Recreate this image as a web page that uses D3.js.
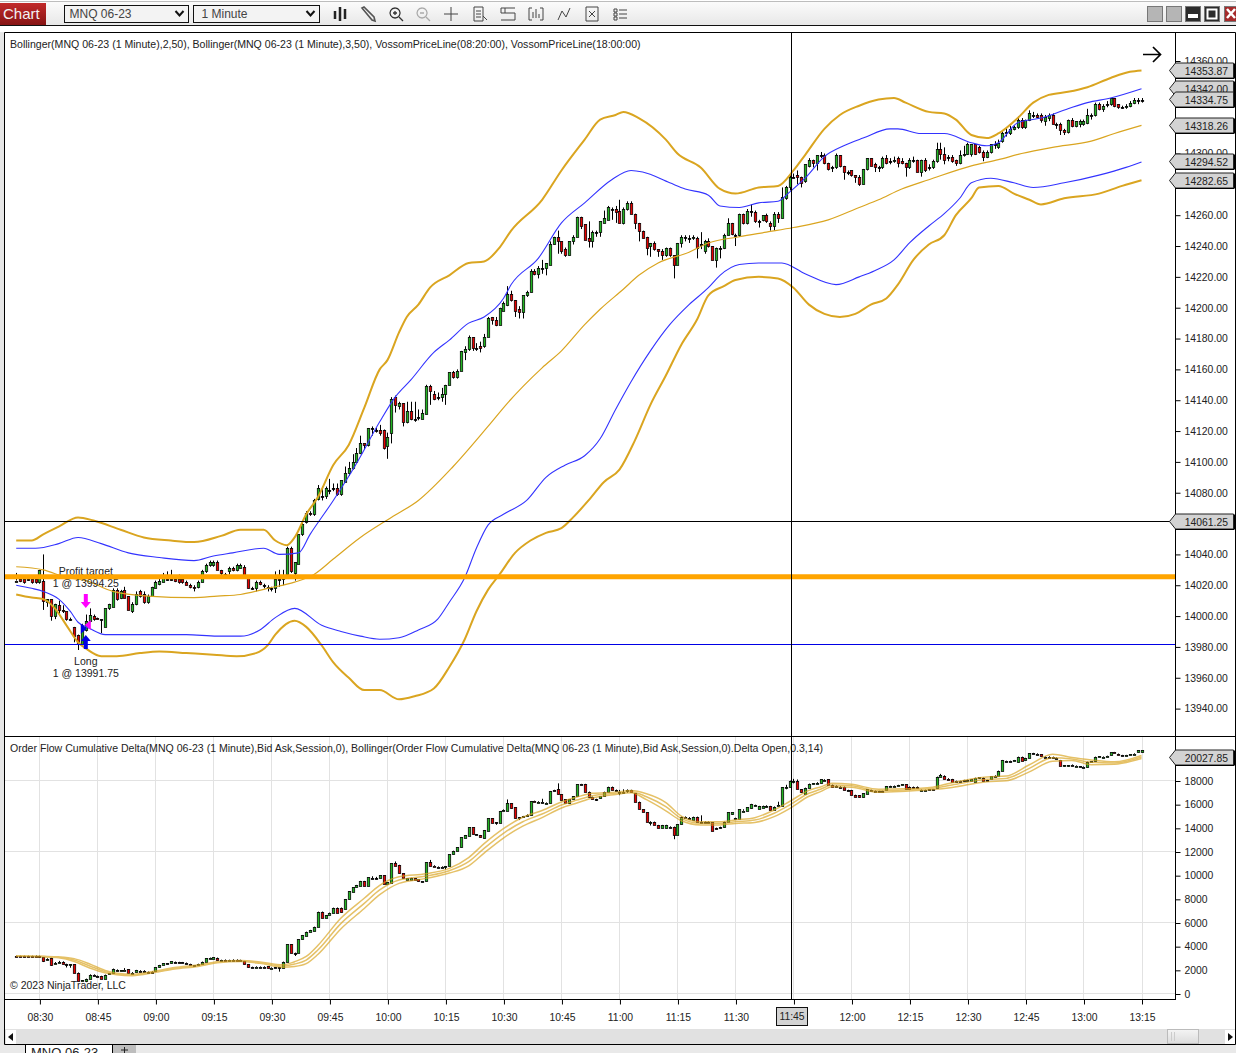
<!DOCTYPE html>
<html>
<head>
<meta charset="utf-8">
<title>MNQ 06-23</title>
<script src="https://cdnjs.cloudflare.com/ajax/libs/d3/7.8.5/d3.min.js"></script>
<style>
    html, body { margin: 0; padding: 0; background: #fff; overflow: hidden; }
    svg { display: block; }
    text { font-family: "Liberation Sans", Arial, sans-serif; font-size: 10.5px; fill: #222; }
    .axis text { font-size: 10.4px; fill: #222; }
    .axis path { display: none; }
    .axis line { stroke: #000; }
</style>
</head>
<body>
<svg id="chart" width="1236" height="1053"></svg>
<script>
// minutes from 08:30, one bar a minute
const FIRST_BAR = -6

const priceOpen = [
    14023,14024,14024,14024,14024,14024,14022,14023,14009,14011,
    14000,14007,14004,14003,13998,13993,13988,13982,13991,13997,
    14000,13999,13998,13993,14005,14006,14017,14012,14017,14013,
    14003,14008,14016,14014,14009,14013,14018,14021,14022,14024,
    14024,14024,14024,14024,14022,14020,14019,14019,14022,14029,
    14033,14033,14035,14030,14027,14029,14031,14030,14031,14032,
    14026,14018,14018,14022,14020,14019,14018,14018,14024,14024,
    14027,14044,14028,14034,14053,14061,14067,14066,14076,14078,
    14078,14082,14083,14083,14079,14087,14093,14096,14100,14106,
    14112,14111,14122,14121,14121,14121,14110,14119,14142,14136,
    14138,14126,14133,14128,14129,14128,14131,14149,14144,14142,
    14142,14144,14150,14158,14155,14159,14171,14173,14181,14174,
    14175,14175,14181,14194,14192,14189,14198,14202,14209,14205,
    14199,14197,14208,14210,14224,14222,14226,14226,14228,14241,
    14246,14243,14238,14234,14243,14246,14259,14254,14245,14243,
    14249,14249,14255,14257,14264,14264,14263,14255,14264,14268,
    14261,14255,14250,14246,14240,14242,14238,14237,14234,14239,
    14234,14228,14242,14246,14245,14245,14245,14241,14237,14243,
    14240,14231,14239,14239,14247,14255,14247,14247,14261,14255,
    14263,14262,14256,14257,14260,14255,14253,14261,14258,14271,
    14278,14285,14286,14285,14282,14292,14296,14294,14299,14299,
    14294,14291,14291,14299,14292,14288,14289,14286,14285,14280,
    14290,14297,14293,14291,14291,14297,14295,14295,14297,14295,
    14294,14291,14296,14296,14288,14296,14291,14291,14295,14303,
    14300,14298,14298,14296,14294,14299,14300,14300,14306,14304,
    14301,14298,14301,14306,14304,14308,14314,14313,14316,14317,
    14322,14317,14322,14325,14325,14325,14321,14323,14325,14319,
    14319,14315,14314,14322,14318,14319,14319,14320,14325,14325,
    14332,14329,14332,14332,14336,14332,14330,14330,14331,14333,
    14335,14335
]
const priceHigh = [
    14028,14026,14025,14026,14025,14025,14030,14040,14011,14011,
    14008,14010,14007,14003,13999,13993,13988,13995,14001,14005,
    14001,13999,13998,14005,14008,14018,14018,14017,14019,14013,
    14009,14016,14017,14016,14014,14019,14023,14025,14028,14029,
    14030,14025,14027,14024,14023,14021,14020,14023,14030,14034,
    14036,14036,14036,14030,14028,14032,14032,14034,14034,14033,
    14026,14019,14023,14023,14021,14020,14019,14029,14030,14030,
    14045,14045,14035,14053,14062,14068,14068,14076,14085,14084,
    14084,14089,14086,14086,14088,14097,14100,14105,14109,14117,
    14112,14122,14123,14122,14124,14121,14119,14142,14143,14139,
    14138,14139,14139,14139,14134,14134,14150,14150,14146,14145,
    14148,14150,14158,14159,14160,14172,14175,14182,14181,14177,
    14178,14183,14194,14194,14194,14200,14204,14214,14211,14205,
    14201,14208,14211,14225,14225,14227,14231,14229,14243,14246,
    14250,14243,14239,14243,14247,14259,14259,14254,14256,14250,
    14250,14256,14263,14266,14265,14266,14270,14265,14269,14269,
    14261,14255,14250,14246,14242,14243,14238,14238,14239,14239,
    14234,14242,14247,14247,14247,14247,14246,14249,14244,14245,
    14240,14239,14240,14248,14258,14255,14248,14261,14261,14264,
    14267,14263,14257,14260,14261,14256,14262,14262,14278,14279,
    14286,14287,14289,14285,14293,14297,14296,14299,14301,14300,
    14294,14292,14300,14299,14292,14289,14289,14286,14286,14290,
    14297,14297,14294,14292,14298,14299,14297,14298,14298,14297,
    14294,14297,14298,14296,14296,14297,14293,14296,14307,14307,
    14304,14299,14299,14296,14302,14305,14307,14306,14306,14305,
    14302,14302,14306,14308,14309,14315,14317,14318,14318,14324,
    14323,14322,14328,14327,14326,14326,14325,14326,14326,14320,
    14320,14316,14322,14323,14321,14322,14322,14329,14326,14333,
    14333,14332,14334,14336,14336,14332,14331,14332,14334,14336,
    14336,14336
]
const priceLow = [
    14023,14022,14021,14023,14021,14021,14021,14004,14006,13997,
    13998,14000,14002,13997,13997,13983,13978,13980,13990,13996,
    13997,13998,13989,13993,14004,14006,14010,14011,14012,14004,
    14002,14007,14012,14008,14008,14013,14018,14020,14022,14023,
    14023,14022,14021,14021,14020,14018,14016,14018,14022,14028,
    14032,14032,14030,14026,14026,14027,14029,14029,14031,14026,
    14018,14017,14016,14020,14018,14016,14016,14015,14019,14020,
    14027,14028,14023,14034,14052,14060,14065,14065,14075,14075,
    14076,14079,14081,14078,14078,14087,14091,14095,14100,14105,
    14108,14110,14117,14119,14117,14108,14102,14112,14132,14134,
    14123,14125,14127,14126,14127,14128,14131,14137,14140,14140,
    14139,14137,14150,14154,14154,14159,14166,14172,14172,14172,
    14171,14174,14181,14189,14188,14189,14198,14201,14204,14194,
    14193,14193,14207,14210,14221,14219,14222,14221,14228,14241,
    14235,14235,14233,14234,14241,14246,14251,14244,14239,14239,
    14246,14246,14255,14257,14257,14255,14255,14254,14263,14261,
    14251,14243,14245,14234,14233,14237,14233,14231,14233,14233,
    14219,14228,14239,14243,14242,14244,14232,14238,14235,14239,
    14231,14226,14232,14238,14247,14247,14240,14246,14254,14254,
    14259,14255,14252,14256,14255,14250,14250,14255,14258,14270,
    14276,14284,14280,14278,14281,14291,14291,14289,14297,14293,
    14289,14288,14290,14291,14283,14286,14285,14281,14279,14280,
    14289,14292,14288,14288,14290,14293,14293,14294,14291,14293,
    14285,14290,14294,14288,14285,14288,14289,14290,14294,14296,
    14293,14295,14294,14292,14293,14298,14299,14298,14299,14300,
    14295,14297,14300,14303,14303,14307,14311,14312,14315,14316,
    14316,14316,14321,14323,14323,14320,14318,14321,14319,14316,
    14312,14312,14313,14317,14317,14317,14318,14319,14322,14324,
    14328,14327,14330,14331,14330,14329,14329,14329,14330,14332,
    14332,14333
]
const priceClose = [
    14023,14023,14022,14024,14022,14022,14030,14010,14011,14000,
    14008,14004,14003,13998,13998,13987,13982,13994,13997,14001,
    13998,13998,13998,14005,14008,14017,14011,14016,14012,14004,
    14008,14014,14013,14009,14013,14019,14022,14023,14026,14024,
    14024,14023,14022,14022,14020,14019,14018,14022,14029,14033,
    14035,14035,14030,14028,14027,14031,14030,14033,14033,14026,
    14018,14018,14022,14021,14020,14019,14018,14024,14024,14025,
    14044,14029,14035,14053,14060,14067,14066,14075,14083,14078,
    14083,14082,14083,14079,14088,14093,14096,14100,14106,14112,
    14111,14122,14122,14121,14119,14109,14116,14141,14137,14138,
    14126,14133,14128,14128,14129,14132,14149,14146,14141,14142,
    14144,14150,14158,14155,14159,14172,14173,14181,14174,14174,
    14174,14181,14193,14192,14189,14200,14203,14209,14205,14198,
    14197,14208,14210,14224,14222,14226,14226,14229,14241,14246,
    14243,14237,14234,14243,14246,14259,14253,14244,14243,14249,
    14249,14256,14258,14265,14264,14262,14255,14264,14268,14261,
    14255,14250,14245,14239,14242,14238,14237,14234,14239,14234,
    14228,14242,14246,14246,14245,14246,14239,14241,14243,14240,
    14231,14239,14239,14247,14255,14248,14247,14261,14255,14263,
    14263,14256,14256,14260,14256,14253,14261,14258,14272,14278,
    14285,14285,14285,14281,14293,14296,14294,14299,14299,14294,
    14290,14291,14299,14292,14288,14288,14286,14285,14280,14290,
    14297,14292,14291,14291,14297,14294,14295,14296,14294,14294,
    14291,14296,14296,14288,14296,14289,14291,14295,14303,14300,
    14296,14298,14295,14294,14299,14300,14306,14306,14300,14301,
    14298,14301,14306,14306,14307,14313,14314,14316,14317,14322,
    14317,14322,14326,14325,14324,14322,14324,14325,14319,14319,
    14315,14314,14322,14318,14321,14321,14321,14325,14325,14332,
    14329,14331,14332,14336,14331,14330,14330,14331,14333,14335,
    14335,14335
]

// Bollinger lines on the price panel, [minute, price]
const bb3Upper = [[-6,14049],[-2,14049],[1,14053],[5,14058],[10,14064],[14,14062],[21,14056],[27,14051],[34,14049],[40,14048],[47,14052],[52,14056],[58,14056],[61,14049],[64,14046],[66,14051],[69,14066],[72,14077],[76,14098],[80,14111],[84,14135],[88,14160],[90,14166],[93,14184],[95,14194],[98,14202],[101,14213],[106,14221],[111,14229],[115,14230],[119,14239],[122,14250],[130,14270],[135,14289],[141,14309],[145,14322],[149,14325],[151,14327],[155,14323],[162,14309],[165,14300],[171,14291],[176,14277],[180,14274],[186,14278],[191,14279],[195,14289],[198,14299],[203,14316],[207,14325],[212,14331],[217,14335],[221,14336],[224,14333],[230,14327],[234,14326],[237,14322],[241,14312],[245,14310],[248,14313],[253,14323],[257,14333],[261,14338],[266,14340],[271,14343],[277,14349],[282,14353],[285,14353.87]]
const bb3Lower = [[-6,14014],[-2,14012],[1,14011],[4,14005],[7,13994],[10,13983],[12,13979],[16,13974],[20,13974],[26,13976],[31,13977],[38,13976],[45,13975],[51,13974],[56,13976],[59,13981],[61,13988],[66,13997],[69,13993],[73,13981],[76,13970],[80,13960],[84,13952],[88,13952],[93,13946],[97,13948],[102,13953],[106,13967],[110,13985],[113,14003],[116,14017],[119,14027],[123,14041],[127,14049],[131,14054],[135,14057],[138,14064],[142,14075],[146,14087],[150,14095],[154,14114],[158,14137],[162,14156],[166,14176],[170,14192],[173,14208],[177,14214],[180,14218],[186,14220],[191,14219],[195,14213],[199,14202],[203,14196],[207,14194],[211,14196],[215,14202],[219,14206],[222,14215],[226,14231],[230,14241],[234,14247],[237,14260],[241,14271],[243,14278],[248,14279],[252,14274],[256,14270],[259,14267],[265,14271],[274,14274],[280,14279],[285,14282.65]]
const bb2Upper = [[-6,14044],[-1,14044],[5,14047],[10,14051],[16,14047],[23,14041],[31,14038],[40,14036],[45,14039],[50,14041],[58,14044],[62,14040],[67,14041],[70,14053],[76,14075],[82,14099],[88,14126],[92,14142],[96,14153],[102,14171],[106,14179],[111,14190],[115,14194],[120,14206],[122,14215],[129,14232],[135,14255],[141,14268],[148,14283],[153,14289],[156,14288],[163,14281],[167,14277],[173,14273],[176,14266],[181,14265],[186,14268],[191,14269],[194,14275],[198,14284],[203,14298],[208,14305],[213,14310],[220,14316],[222,14316],[228,14313],[234,14313],[241,14307],[245,14305],[248,14307],[253,14320],[259,14323],[266,14329],[271,14333],[277,14336],[285,14342]]
const bb2Lower = [[-6,14020],[-2,14018],[1,14016],[5,14011],[8,14003],[10,13996],[13,13992],[17,13988],[29,13988],[38,13988],[46,13987],[52,13987],[57,13991],[61,13999],[66,14005],[73,13994],[78,13990],[83,13987],[88,13985],[93,13986],[98,13991],[103,13998],[106,14009],[110,14025],[113,14044],[116,14059],[120,14066],[126,14075],[131,14090],[136,14098],[141,14104],[145,14115],[149,14134],[153,14152],[158,14172],[163,14189],[168,14202],[173,14213],[176,14221],[181,14228],[186,14229],[192,14229],[198,14222],[206,14215],[212,14220],[216,14224],[221,14231],[225,14242],[230,14253],[234,14261],[238,14271],[241,14281],[246,14284],[252,14281],[257,14278],[265,14281],[274,14286],[281,14291],[285,14294.52]]
const bbMiddle = [[-6,14032],[1,14030],[7,14025],[12,14023],[19,14016],[28,14013],[40,14012],[46,14013],[52,14014],[59,14018],[66,14022],[71,14027],[76,14037],[83,14051],[91,14064],[98,14075],[107,14097],[116,14123],[121,14138],[130,14161],[135,14172],[141,14189],[145,14199],[151,14212],[155,14221],[160,14229],[168,14236],[173,14242],[181,14246],[188,14249],[195,14252],[204,14257],[212,14265],[217,14270],[223,14277],[230,14283],[241,14292],[248,14296],[254,14300],[262,14304],[272,14308],[278,14313],[285,14318.26]]

const deltaOpen = [
    3220,3210,3210,3210,3210,3210,3200,3100,2990,3040,
    2620,2730,2730,2530,2500,2500,1800,1130,1070,1300,
    1610,1520,1520,1300,1700,1750,2000,1950,2050,2080,
    1800,1860,1970,1970,1860,1890,1970,2250,2480,2590,
    2590,2700,2680,2680,2620,2530,2420,2500,2530,2730,
    3010,3000,3070,2870,2880,2870,2900,2900,2870,2790,
    2510,2280,2300,2310,2310,2340,2220,2250,2250,2200,
    2730,4200,3490,3490,4620,4930,5270,5350,5690,6960,
    6450,6680,6870,7300,7290,7180,8000,8650,9010,9150,
    9550,9150,9830,9830,9830,10030,9270,9350,11040,10900,
    10200,9650,9660,9780,9700,9520,9520,11130,10850,10750,
    10760,10790,10840,11800,12110,12390,13200,13380,14080,13490,
    13430,13150,13800,14840,14500,14480,15460,15490,16110,15770,
    14930,14980,15100,15120,16310,16240,16240,16150,16110,17240,
    17290,16870,16450,16110,16480,16730,17750,17750,17100,16650,
    16470,16560,16730,17100,17520,17240,16950,16950,17120,17240,
    16960,16250,15600,15350,14560,14560,14280,14050,14050,14130,
    14140,13440,14340,14980,14900,14700,14980,14560,14560,14560,
    14500,14000,14080,14080,14560,15250,14760,14760,15490,15490,
    15690,15900,15650,15750,15780,15870,15540,15970,15910,17490,
    17520,18030,18030,17300,16900,17430,17750,17800,17800,18060,
    18140,17660,17600,17520,17520,17240,17240,16820,16790,16620,
    16930,17240,17180,17150,17150,17240,17500,17540,17600,17660,
    17720,17530,17500,17520,17250,17230,17290,17310,17430,18360,
    18450,18210,18170,18000,17990,18080,18000,17990,17940,18220,
    18280,18080,18140,18440,18450,18870,19700,19700,19740,19580,
    20050,19760,19970,20340,20310,20250,20050,20050,20020,19960,
    19770,19240,19240,19350,19290,19240,19210,19150,19630,19660,
    20080,20050,20110,20190,20430,20310,20190,20190,20240,20300,
    20430,20420
]
const deltaHigh = [
    3240,3240,3240,3240,3240,3260,3240,3120,3020,3060,
    2700,2800,2760,2560,2530,2510,1820,1180,1300,1660,
    1660,1560,1540,1640,1780,2150,2080,2020,2190,2100,
    1850,2040,2010,2010,1900,1920,2260,2460,2600,2620,
    2780,2740,2720,2710,2660,2560,2450,2560,2740,3020,
    3080,3120,3080,2900,2920,2900,2930,2930,2900,2800,
    2520,2310,2340,2340,2340,2350,2250,2280,2280,2740,
    4200,4210,3500,4620,4990,5270,5420,5690,6960,6970,
    6680,6880,7300,7310,7310,8030,8700,9020,9220,9560,
    9560,9860,9950,9900,10030,10040,9440,11050,11200,10920,
    10200,9800,9820,9800,9720,9540,11130,11330,10880,10780,
    10790,10820,11800,12110,12400,13240,13440,14090,14090,13520,
    13440,13860,14840,14850,14520,15470,15600,16440,16120,15780,
    14960,15050,15180,16310,16340,16290,16500,16190,17160,17260,
    17800,16880,16460,16480,16730,17720,17760,17760,17110,16680,
    16500,16720,17100,17520,17530,17280,17250,17300,17290,17260,
    16970,16260,15610,15360,14600,14570,14290,14290,14300,14170,
    14150,14340,14990,15010,14950,14990,14990,15100,14590,14590,
    14510,14060,14140,14570,15350,15360,14900,15610,15610,15780,
    16070,16000,15900,15920,15950,15900,15850,16250,17490,17680,
    18030,18180,18130,17320,17440,17780,17830,17900,18140,18150,
    18150,17700,17640,17560,17530,17260,17250,16840,16810,16960,
    17290,17260,17200,17170,17180,17580,17600,17620,17680,17720,
    17730,17540,17530,17540,17280,17270,17310,17330,18370,18600,
    18480,18240,18180,18030,18020,18100,18120,18140,18280,18320,
    18300,18100,18400,18490,18880,19780,19720,19720,19780,20060,
    20060,19960,20340,20380,20340,20270,20080,20090,20060,20000,
    19780,19350,19350,19400,19320,19260,19240,19640,19660,20060,
    20110,20080,20140,20420,20460,20320,20210,20210,20270,20340,
    20600,20600
]
const deltaLow = [
    3180,3180,3180,3180,3180,3180,3050,2700,2850,2380,
    2560,2640,2500,2240,2220,1800,1100,1100,1000,1280,
    1580,1490,1280,1280,1680,1740,1960,1930,2020,1740,
    1760,1840,1930,1930,1830,1850,1950,2240,2470,2560,
    2580,2660,2640,2640,2580,2500,2390,2480,2520,2720,
    3000,2990,2860,2840,2840,2840,2870,2870,2840,2500,
    2240,2250,2280,2290,2280,2160,2190,2220,1890,2190,
    2720,3490,3210,3480,4610,4920,5260,5340,5680,6440,
    6440,6670,6860,6870,6880,7170,7990,8640,9000,9140,
    9140,9140,9780,9700,9820,9290,9260,9340,10830,10190,
    9770,9620,9620,9640,9500,9490,9510,10800,10800,10720,
    10730,10520,10830,11790,12100,12380,13190,13370,13480,13440,
    13230,13140,13790,14470,14300,14470,15450,15480,15680,14840,
    14700,14900,15000,15110,16270,16200,16220,16100,16100,17200,
    16870,16390,16110,16100,16470,16720,17720,17090,16610,16470,
    16320,16540,16720,17090,17230,17180,16800,16900,17000,17040,
    16250,15600,15400,14560,14240,14280,14050,14040,14000,14090,
    13080,13430,14330,14930,14850,14690,14560,14540,14530,14530,
    13790,13950,14000,14070,14550,15140,14740,14750,15480,15480,
    15680,15880,15630,15730,15760,15540,15530,15950,15900,17300,
    17510,17800,17320,17010,16890,17420,17720,17760,17790,18000,
    17650,17520,17560,17480,17230,17190,16810,16660,16610,16610,
    16920,17210,17150,17120,17110,17230,17490,17530,17590,17650,
    17320,17320,17360,17400,17220,17220,17270,17290,17420,18350,
    18160,18130,17930,17970,17960,18050,17990,17980,17930,18200,
    18020,18040,18130,18430,18440,18860,19670,19670,19710,19570,
    19690,19740,19960,20310,20280,20110,20000,20020,19970,19920,
    19290,19220,19220,19330,19260,19200,19190,19140,19610,19650,
    20040,20020,20090,20180,20400,20190,20160,20160,20220,20280,
    20420,20410
]
const deltaClose = [
    3200,3200,3200,3200,3200,3190,3150,2820,3000,2480,
    2660,2740,2540,2530,2510,1800,1130,1160,1300,1630,
    1610,1520,1300,1630,1750,2140,2000,1990,2060,1750,
    1810,2030,1970,1970,1860,1890,2250,2450,2590,2590,
    2760,2700,2680,2680,2620,2510,2420,2540,2730,3010,
    3070,3100,2870,2880,2870,2880,2900,2890,2880,2510,
    2250,2280,2310,2310,2310,2170,2230,2250,2250,2730,
    4200,3490,3490,4620,4990,5270,5410,5690,6960,6450,
    6680,6870,7300,6880,6900,8030,8700,9010,9210,9550,
    9150,9860,9830,9830,10030,9300,9430,11040,10840,10200,
    9780,9790,9810,9650,9510,9520,11130,10820,10800,10750,
    10760,10800,11800,12110,12390,13240,13430,14080,13490,13490,
    13240,13860,14840,14480,14500,15460,15550,16170,15690,14840,
    14930,15050,15120,16310,16300,16250,16240,16160,17150,17240,
    16870,16390,16110,16480,16730,17720,17750,17100,16620,16500,
    16470,16700,17100,17520,17240,17240,17030,17030,17220,17050,
    16250,15600,15400,14560,14570,14280,14050,14270,14250,14130,
    13440,14340,14980,14980,14900,14980,14560,14560,14560,14560,
    13800,14000,14080,14560,15350,15350,14850,15600,15500,15770,
    16050,15950,15880,15890,15910,15540,15830,15980,17490,17520,
    18030,18040,17320,17030,17440,17770,17800,17860,18140,18080,
    17660,17530,17600,17520,17240,17240,16820,16680,16620,16950,
    17290,17240,17180,17150,17150,17570,17580,17600,17660,17710,
    17320,17340,17390,17430,17260,17240,17290,17310,18360,18500,
    18170,18150,17940,18000,17990,18080,18110,18130,18270,18300,
    18030,18080,18390,18450,18870,19770,19700,19700,19760,20050,
    19700,19950,20330,20340,20310,20120,20050,20050,20020,19960,
    19290,19350,19350,19350,19300,19240,19210,19630,19650,20050,
    20090,20060,20140,20420,20410,20200,20190,20200,20250,20310,
    20590,20590
]

// Bollinger of the delta: minute, middle line and half width of the narrow band
const deltaBandTimes = [-6,1,5,9,13,17,20,24,30,35,41,46,52,57,63,66,69,72,78,84,88,93,100,106,111,115,120,125,130,135,139,143,149,153,157,162,166,171,176,180,185,190,194,199,202,205,210,217,224,231,236,245,250,256,262,267,272,278,285]
const deltaBandMid = [3210,3160,3100,2870,2370,1890,1690,1610,1890,2170,2390,2680,2790,2650,2370,2530,2870,3720,5970,7660,8790,9630,9970,10420,11180,12310,13580,14560,15210,15970,16390,16760,16960,17100,16670,15830,14840,14420,14420,14560,14700,15270,15970,16960,17300,17660,17600,17180,17240,17380,17660,18140,18220,19070,19970,19860,19580,19520,20028]
const deltaBandHalf = [0,20,40,120,170,100,60,60,60,60,60,50,50,60,100,200,300,380,450,430,400,280,200,200,350,400,400,380,300,250,250,200,100,100,250,350,200,130,130,150,200,280,300,250,200,150,120,130,100,100,200,200,200,300,300,120,200,100,130]

const timeTicks = [0,15,30,45,60,75,90,105,120,135,150,165,180,195,210,225,240,255,270,285]
const timeLabels = ["08:30","08:45","09:00","09:15","09:30","09:45","10:00","10:15","10:30","10:45","11:00","11:15","11:30","11:45","12:00","12:15","12:30","12:45","13:00","13:15"]
const priceTicks = d3.range(13940, 14361, 20)
const deltaTicks = d3.range(0, 18001, 2000)
const deltaGrid = [0, 6000, 12000, 18000]

const priceFlags = [14353.87, 14342.00, 14334.75, 14318.26, 14294.52, 14282.65]
const CROSS_PRICE = 14061.25
const CROSS_TIME = 194.5
const DELTA_LAST = 20027.85
const VOSSOM_HIGH = 14025.5
const VOSSOM_LOW = 13981.75
const TARGET_PRICE = 13994.25
const LONG_PRICE = 13991.75
const ENTRY_TIME = 12

const svg = d3.select("#chart")
const xScale = d3.scaleLinear().domain([0, 285]).range([39.4, 1141.5])
const yPrice = d3.scaleLinear().domain([13940, 14360]).range([708.6, 61])
const yDelta = d3.scaleLinear().domain([0, 18000]).range([994, 781])

const GOLD = "#daa520"
const BLUE = "#3333ff"
const RIGHT = 1175

class CandlePanel {

    constructor(_config, _o, _h, _l, _c) {
        this.config = _config
        this.open = _o
        this.high = _h
        this.low = _l
        this.close = _c
        this.initVis()
    }

    initVis() {
        let vis = this
        vis.chart = svg.append("g").attr("class", vis.config.name)
        vis.bars = vis.open.map((d, i) => ({
            t: FIRST_BAR + i, o: d, h: vis.high[i], l: vis.low[i], c: vis.close[i]
        }))
    }

    snap(v) {
        return Math.round(v) + 0.5
    }

    renderVis() {
        let vis = this
        const y = vis.config.y

        const bar = vis.chart.selectAll(".bar")
            .data(vis.bars)
            .join("g")
                .attr("class", "bar")

        bar.append("line")
            .attr("x1", d => vis.snap(xScale(d.t)))
            .attr("x2", d => vis.snap(xScale(d.t)))
            .attr("y1", d => y(d.h))
            .attr("y2", d => y(d.l))
            .attr("stroke", "#000")

        // a flat bar still has to show as a dash, an svg rect of no height draws nothing
        bar.append("rect")
            .attr("x", d => vis.snap(xScale(d.t)) - 1.2)
            .attr("width", 2.4)
            .attr("y", d => vis.snap(y(Math.max(d.o, d.c))))
            .attr("height", d => Math.max(1, vis.snap(y(Math.min(d.o, d.c))) - vis.snap(y(Math.max(d.o, d.c)))))
            .attr("fill", d => d.c > d.o ? "#22b422" : d.c < d.o ? "#e60000" : "#000")
            .attr("stroke", "#000")
            .attr("stroke-width", .75)
    }
}

// ---- window furniture
svg.append("rect").attr("width", 1236).attr("height", 1053).attr("fill", "#fff")
svg.append("rect").attr("x", 0).attr("y", 32).attr("width", 4).attr("height", 1021).attr("fill", "#e6e6e6")
svg.append("rect").attr("x", 0).attr("y", 1045).attr("width", 1236).attr("height", 8).attr("fill", "#e9e9e9")

const defs = svg.append("defs")
const toolGrad = defs.append("linearGradient").attr("id", "toolGrad").attr("x1", 0).attr("x2", 0).attr("y1", 0).attr("y2", 1)
toolGrad.append("stop").attr("offset", "0%").attr("stop-color", "#fbfbfb")
toolGrad.append("stop").attr("offset", "100%").attr("stop-color", "#e8e8e8")
const redGrad = defs.append("linearGradient").attr("id", "redGrad").attr("x1", 0).attr("x2", 0).attr("y1", 0).attr("y2", 1)
redGrad.append("stop").attr("offset", "0%").attr("stop-color", "#c22a2a")
redGrad.append("stop").attr("offset", "100%").attr("stop-color", "#861414")
const thumbGrad = defs.append("linearGradient").attr("id", "thumbGrad").attr("x1", 0).attr("x2", 0).attr("y1", 0).attr("y2", 1)
thumbGrad.append("stop").attr("offset", "0%").attr("stop-color", "#f4f4f4")
thumbGrad.append("stop").attr("offset", "100%").attr("stop-color", "#dcdcdc")

svg.append("rect").attr("x", 0).attr("y", 2).attr("width", 1236).attr("height", 23).attr("fill", "url(#toolGrad)")
svg.append("line").attr("x1", 0).attr("x2", 1236).attr("y1", 1.5).attr("y2", 1.5).attr("stroke", "#bdbdbd")
svg.append("line").attr("x1", 0).attr("x2", 1236).attr("y1", 25.5).attr("y2", 25.5).attr("stroke", "#111")
svg.append("rect").attr("x", 0).attr("y", 3).attr("width", 46).attr("height", 22).attr("fill", "url(#redGrad)")
svg.append("text").attr("x", 3).attr("y", 19).text("Chart")
    .style("font-size", "15px").style("fill", "#f2f2f2")

const combos = [["MNQ 06-23", 64.5, 124, 5], ["1 Minute", 193.5, 126, 8]]
combos.forEach(c => {
    svg.append("rect").attr("x", c[1]).attr("y", 5.5).attr("width", c[2]).attr("height", 17)
        .attr("fill", "#f3f3f3").attr("stroke", "#111")
    svg.append("text").attr("x", c[1] + c[3]).attr("y", 18).text(c[0])
        .style("font-size", "12px").style("fill", "#444")
    const ax = c[1] + c[2] - 9
    svg.append("path").attr("d", `M${ax - 4},11 L${ax},15.5 L${ax + 4},11`)
        .attr("fill", "none").attr("stroke", "#111").attr("stroke-width", 2)
})

// toolbar icons
const icon = (x, d, col, w) => svg.append("path").attr("transform", `translate(${x},14)`)
    .attr("d", d).attr("fill", "none").attr("stroke", col || "#333").attr("stroke-width", w || 1)
icon(340, "M-5,-3V5 M0,-7V7 M5,-5V5", "#222", 2.5)
icon(368, "M-6,-6 L4,6 L7,7 L6,3 L-4,-7 Z", "#555", 1.6)
icon(396, "M-1,-6 a5,5 0 1,0 .1,0 M-3,-1H1 M-1,-3V1 M3,3 L7,7", "#333", 1.3)
icon(423, "M-1,-6 a5,5 0 1,0 .1,0 M-3,-1H1 M3,3 L7,7", "#aaa", 1.3)
icon(451, "M-7,0H7 M0,-7V7", "#444", 1)
icon(480, "M-6,-7H3V7H-6Z M-4,-3H1 M-4,0H1 M-4,3H1 M3,2 L7,6", "#444", 1)
icon(508, "M-7,-6H7 M-7,-1H7 M-7,6H7 M-7,-6V-1 M-3,-6V-1 M7,-1V6", "#444", 1)
icon(536, "M-7,-6V6H-4 M7,-6V6H4 M-7,-6H-4 M7,-6H4 M-3,4V-2 M0,4V-5 M3,4V0", "#444", 1)
icon(564, "M-6,6 L-2,-3 L2,3 L6,-6", "#444", 1)
icon(592, "M-6,-7H6V7H-6Z M-3,-3L3,3 M3,-3L-3,3", "#444", 1)
icon(620, "M-6,-5H-3V-2H-6Z M-6,-1H-3V2H-6Z M-6,3H-3V6H-6Z M-1,-4H7 M-1,0H7 M-1,4H7", "#444", 1)

// window buttons
const winButtons = [[1147, "#b5b5b5"], [1166, "#b5b5b5"], [1185, "#2b2b2b"], [1204, "#2b2b2b"], [1224, "#a52a2a"]]
winButtons.forEach(b => {
    svg.append("rect").attr("x", b[0] + .5).attr("y", 6.5).attr("width", 15).attr("height", 15)
        .attr("fill", b[1]).attr("stroke", "#777")
})
svg.append("rect").attr("x", 1188).attr("y", 14).attr("width", 10).attr("height", 4).attr("fill", "#fff")
svg.append("rect").attr("x", 1207.5).attr("y", 9.5).attr("width", 9).attr("height", 9).attr("fill", "none").attr("stroke", "#fff").attr("stroke-width", 2)
svg.append("path").attr("d", "M1227,9 L1235,18 M1235,9 L1227,18").attr("stroke", "#fff").attr("stroke-width", 2.5)

// ---- delta grid sits under everything
svg.append("g").selectAll("line").data(timeTicks).join("line")
    .attr("x1", d => Math.round(xScale(d)) + .5).attr("x2", d => Math.round(xScale(d)) + .5)
    .attr("y1", 737).attr("y2", 999).attr("stroke", "#e2e2e2")
svg.append("g").selectAll("line").data(deltaGrid).join("line")
    .attr("x1", 5).attr("x2", RIGHT)
    .attr("y1", d => Math.round(yDelta(d)) - .5).attr("y2", d => Math.round(yDelta(d)) - .5).attr("stroke", "#e2e2e2")

// ---- price panel
const pricePanel = new CandlePanel({ name: "prices", y: yPrice }, priceOpen, priceHigh, priceLow, priceClose)
pricePanel.renderVis()

const priceLine = d3.line().x(d => xScale(d[0])).y(d => yPrice(d[1])).curve(d3.curveMonotoneX)
const bands = [
    [bb3Upper, GOLD, 2], [bb3Lower, GOLD, 2],
    [bb2Upper, BLUE, 1.1], [bb2Lower, BLUE, 1.1],
    [bbMiddle, GOLD, 1.2]
]
svg.append("g").selectAll("path").data(bands).join("path")
    .attr("d", d => priceLine(d[0]))
    .attr("fill", "none")
    .attr("stroke", d => d[1])
    .attr("stroke-width", d => d[2])
    .attr("stroke-linejoin", "round")

// trade markers
const entryX = xScale(ENTRY_TIME)
svg.append("text").attr("x", entryX).attr("y", 575).attr("text-anchor", "middle").text("Profit target")
svg.append("text").attr("x", entryX).attr("y", 587).attr("text-anchor", "middle").text("1 @ 13994.25")
svg.append("text").attr("x", entryX).attr("y", 665).attr("text-anchor", "middle").text("Long")
svg.append("text").attr("x", entryX).attr("y", 677).attr("text-anchor", "middle").text("1 @ 13991.75")
svg.append("path").attr("d", `M${entryX - 2},594 h4 v8 h3 l-5,6 l-5,-6 h3 z`).attr("fill", "#ff00ff")
svg.append("path").attr("d", `M${entryX - 2},649 h4 v-8 h3 l-5,-6 l-5,6 h3 z`).attr("fill", "#0000e6")
svg.append("path").attr("transform", `translate(${entryX + 3},${yPrice(TARGET_PRICE)})`)
    .attr("d", "M-4,0 L2,-5 L2,5 Z").attr("fill", "#ff00ff")
svg.append("path").attr("transform", `translate(${entryX - 3},${yPrice(LONG_PRICE)})`)
    .attr("d", "M4,0 L-2,-5 L-2,5 Z").attr("fill", "#0000e6")

// price levels
svg.append("line").attr("x1", 5).attr("x2", RIGHT)
    .attr("y1", Math.floor(yPrice(VOSSOM_LOW)) + .5).attr("y2", Math.floor(yPrice(VOSSOM_LOW)) + .5).attr("stroke", "#0000e6")
svg.append("line").attr("x1", 5).attr("x2", RIGHT)
    .attr("y1", yPrice(VOSSOM_HIGH)).attr("y2", yPrice(VOSSOM_HIGH)).attr("stroke", "#ffa500").attr("stroke-width", 5)
svg.append("line").attr("x1", 5).attr("x2", RIGHT)
    .attr("y1", Math.floor(yPrice(CROSS_PRICE)) + .5).attr("y2", Math.floor(yPrice(CROSS_PRICE)) + .5).attr("stroke", "#000")

// ---- delta panel
const deltaPanel = new CandlePanel({ name: "delta", y: yDelta }, deltaOpen, deltaHigh, deltaLow, deltaClose)
deltaPanel.renderVis()

const deltaLine = d3.line().x(d => xScale(d.t)).y(d => yDelta(d.v)).curve(d3.curveMonotoneX)
const deltaBands = [-1, 0, 1].map(side => deltaBandTimes.map((t, i) => ({ t: t, v: deltaBandMid[i] + side * deltaBandHalf[i] })))
svg.append("g").attr("opacity", .68).selectAll("path").data(deltaBands).join("path")
    .attr("d", deltaLine)
    .attr("fill", "none")
    .attr("stroke", GOLD)
    .attr("stroke-width", 1.5)

svg.append("text").attr("x", 10).attr("y", 48).style("font-size", "10.57px")
    .text("Bollinger(MNQ 06-23 (1 Minute),2,50), Bollinger(MNQ 06-23 (1 Minute),3,50), VossomPriceLine(08:20:00), VossomPriceLine(18:00:00)")
svg.append("text").attr("x", 10).attr("y", 752).style("font-size", "10.57px")
    .text("Order Flow Cumulative Delta(MNQ 06-23 (1 Minute),Bid Ask,Session,0), Bollinger(Order Flow Cumulative Delta(MNQ 06-23 (1 Minute),Bid Ask,Session,0).Delta Open,0.3,14)")
svg.append("text").attr("x", 10).attr("y", 989).text("\u00a9 2023 NinjaTrader, LLC")

// ---- axes, the 11:45 label is carried by the crosshair flag below
const xAxis = d3.axisBottom(xScale)
    .tickValues(timeTicks)
    .tickFormat((d, i) => d === 195 ? "" : timeLabels[i])
    .tickSize(5)
    .tickPadding(9)
const xAxisGroup = svg.append("g").attr("class", "axis x-axis")
    .attr("transform", "translate(0.5, 999.5)")
    .call(xAxis)

const yAxisPrice = d3.axisRight(yPrice).tickValues(priceTicks).tickFormat(d3.format(".2f")).tickSize(5).tickPadding(4)
const yAxisDelta = d3.axisRight(yDelta).tickValues(deltaTicks).tickFormat(d3.format("d")).tickSize(5).tickPadding(4)
svg.append("g").attr("class", "axis y-axis").attr("transform", `translate(${RIGHT + .5}, 0)`).call(yAxisPrice)
svg.append("g").attr("class", "axis y-axis").attr("transform", `translate(${RIGHT + .5}, 0)`).call(yAxisDelta)

// ---- frame
svg.append("path").attr("d", `M4.5,32.5 H1235.5 V1044.5 H4.5 Z`).attr("fill", "none").attr("stroke", "#000")
svg.append("line").attr("x1", 4.5).attr("x2", 1235.5).attr("y1", 736.5).attr("y2", 736.5).attr("stroke", "#000")
svg.append("line").attr("x1", 4.5).attr("x2", RIGHT + .5).attr("y1", 999.5).attr("y2", 999.5).attr("stroke", "#000")
svg.append("line").attr("x1", RIGHT + .5).attr("x2", RIGHT + .5).attr("y1", 33).attr("y2", 1000).attr("stroke", "#000")

// crosshair
svg.append("line").attr("x1", Math.round(xScale(CROSS_TIME)) - .5).attr("x2", Math.round(xScale(CROSS_TIME)) - .5)
    .attr("y1", 33).attr("y2", 999).attr("stroke", "#000")

// ---- price flags on the right
const flag = (v, y, col) => {
    const cy = Math.floor(y(v)) + .5
    const g = svg.append("g")
    g.append("path")
        .attr("d", `M1169.5,${cy} L1175.5,${cy - 7.5} H1233.5 V${cy + 7.5} H1175.5 Z`)
        .attr("fill", "#d3d3d3").attr("stroke", "#222")
    g.append("line").attr("x1", 1175).attr("x2", 1234).attr("y1", cy + 8).attr("y2", cy + 8).attr("stroke", "#000")
    g.append("line").attr("x1", 1234.5).attr("x2", 1234.5).attr("y1", cy - 7).attr("y2", cy + 8).attr("stroke", "#000")
    g.append("text").attr("x", 1228).attr("y", cy + 4).attr("text-anchor", "end").text(d3.format(".2f")(v))
        .style("font-size", "10.4px").style("fill", col || "#222")
}
priceFlags.forEach(v => flag(v, yPrice))
flag(CROSS_PRICE, yPrice)
flag(DELTA_LAST, d => 994 - (d / 18000) * 213)

// time flag
const crossX = xScale(CROSS_TIME)
svg.append("rect").attr("x", 776.5).attr("y", 1007.5).attr("width", 31).attr("height", 18)
    .attr("fill", "#d3d3d3").attr("stroke", "#111")
svg.append("text").attr("x", crossX + .5).attr("y", 1020).attr("text-anchor", "middle").text(timeLabels[13])
    .style("font-size", "10.4px")

// direction arrow top right
svg.append("path").attr("d", "M1143,54.5 H1160 M1153,47 L1160.5,54.5 L1153,62")
    .attr("fill", "none").attr("stroke", "#000").attr("stroke-width", 1.7)

// ---- scroll bar and tab strip
svg.append("rect").attr("x", 5).attr("y", 1029).attr("width", 1230).attr("height", 15).attr("fill", "#e1e1e1")
svg.append("rect").attr("x", 6).attr("y", 1030).attr("width", 10).attr("height", 14).attr("fill", "#fff")
svg.append("rect").attr("x", 1225).attr("y", 1030).attr("width", 10).attr("height", 14).attr("fill", "#fff")
svg.append("path").attr("d", "M13,1033 L8,1037 L13,1041 Z").attr("fill", "#111")
svg.append("path").attr("d", "M1228,1033 L1233,1037 L1228,1041 Z").attr("fill", "#111")
svg.append("rect").attr("x", 1167.5).attr("y", 1029.5).attr("width", 31).attr("height", 14)
    .attr("fill", "url(#thumbGrad)").attr("stroke", "#bbb")
svg.append("path").attr("d", "M1171.5,1032V1041 M1174.5,1032V1041").attr("stroke", "#ccc")
svg.append("path").attr("d", "M25.5,1053 V1045 M112.5,1053 V1045").attr("stroke", "#000")
svg.append("rect").attr("x", 26).attr("y", 1045).attr("width", 86).attr("height", 8).attr("fill", "#fff")
svg.append("text").attr("x", 31).attr("y", 1057).text("MNQ 06-23").style("font-size", "13px")
svg.append("rect").attr("x", 113).attr("y", 1045).attr("width", 23).attr("height", 8).attr("fill", "#bdbdbd")
svg.append("path").attr("d", "M124.5,1047V1053 M121,1050H128").attr("stroke", "#222")
</script>
</body>
</html>
